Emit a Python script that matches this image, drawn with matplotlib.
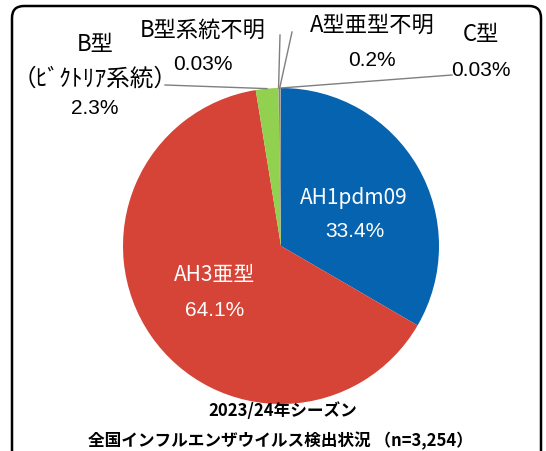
import numpy as np
import matplotlib.pyplot as plt
from matplotlib.patches import FancyBboxPatch

plt.rcParams['font.family'] = ['Noto Sans CJK JP', 'DejaVu Sans']
NUM_FONT = ['Liberation Sans', 'DejaVu Sans']

# data
labels = ['AH1pdm09', 'AH3亜型', 'B型', 'B型系統不明', 'A型亜型不明', 'C型']
values = [33.4, 64.1, 2.3, 0.03, 0.2, 0.03]
pct_text = ['33.4%', '64.1%', '2.3%', '0.03%', '0.2%', '0.03%']
colors = ['#0563b0', '#d54436', '#92d050', '#a5a5a5', '#7f7f7f', '#c0c0c0']
title_lines = ['2023/24年シーズン', '全国インフルエンザウイルス検出状況 （n=3,254）']

W, H = 546, 452
fig = plt.figure(figsize=(W / 100, H / 100), dpi=100)
ax = fig.add_axes([0, 0, 1, 1])

# frame
ax.add_patch(FancyBboxPatch((12, -30), 529, 475, boxstyle='round,pad=0,rounding_size=12',
                            fc='white', ec='black', lw=1.8, zorder=0))

cx, cy, r = 281, H - 247, 158
wedges, _ = ax.pie(values, colors=colors, startangle=90, counterclock=False,
                   center=(cx, cy), radius=r, frame=True,
                   wedgeprops=dict(linewidth=0))
ax.set_xlim(0, W)
ax.set_ylim(0, H)
ax.set_aspect('equal')
ax.axis('off')

# inner labels
ax.text(354, H - 198, labels[0], color='white', fontsize=15, ha='center', va='center')
ax.text(355, H - 232, pct_text[0], color='white', fontsize=15, ha='center', va='center', family=NUM_FONT)
ax.text(215, H - 275, labels[1], color='white', fontsize=15, ha='center', va='center')
ax.text(215, H - 310, pct_text[1], color='white', fontsize=15, ha='center', va='center', family=NUM_FONT)

# outer labels with leader lines
# index: (label x, name y, pct y, line end x, line end y)
outer = {2: (95, 45, 108, 165, 86),
         3: (203, 30, 64, 280, 36),
         4: (372, 25, 60, 292, 33),
         5: (481, 35, 70, 452, 76)}
for i, (tx, ny, py_, lx, ly) in outer.items():
    w = wedges[i]
    ang = np.deg2rad((w.theta1 + w.theta2) / 2)
    px, py = cx + r * np.cos(ang), cy + r * np.sin(ang)
    ax.plot([px, lx], [py, H - ly], color='#7f7f7f', lw=1.0)
    ax.text(tx, H - ny, labels[i], fontsize=16, ha='center', va='center')
    ax.text(tx, H - py_, pct_text[i], fontsize=15, ha='center', va='center', family=NUM_FONT)
ax.text(95, H - 79, '（ﾋﾞｸﾄﾘｱ系統）', fontsize=17, ha='center', va='center')

ax.text(283, H - 411, title_lines[0], fontsize=12, ha='center', va='center', fontweight='bold')
ax.text(280, H - 441, title_lines[1], fontsize=12, ha='center', va='center', fontweight='bold')

fig.savefig('out.png', dpi=100)
